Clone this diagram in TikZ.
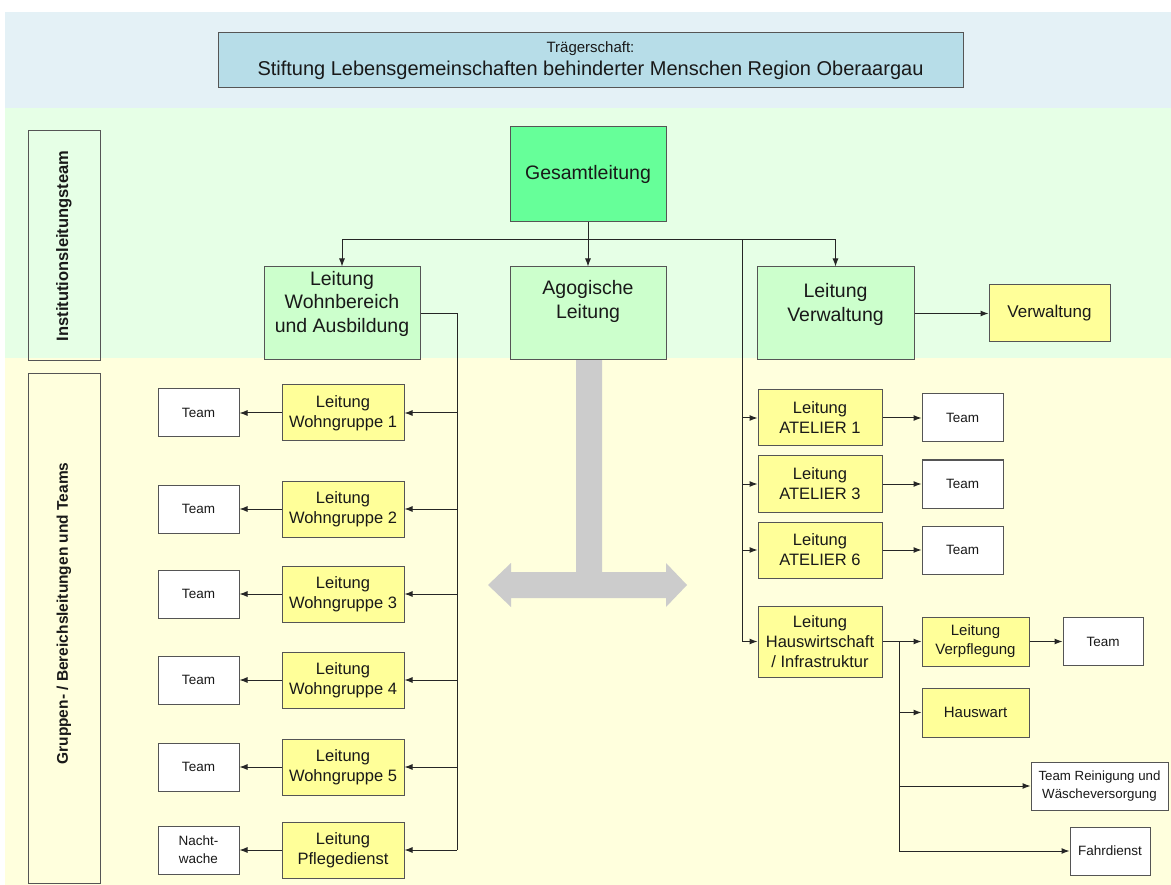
\documentclass[tikz,border=0pt]{standalone}
\usepackage{fontspec}
\setmainfont{Liberation Sans}
\usetikzlibrary{arrows.meta}
\definecolor{bandblue}{HTML}{E4F1F6}
\definecolor{bandgreen}{HTML}{E6FFE6}
\definecolor{bandyellow}{HTML}{FFFFDD}
\definecolor{boxblue}{HTML}{B7DDE8}
\definecolor{boxgreenD}{HTML}{66FF99}
\definecolor{boxgreenL}{HTML}{CCFFCC}
\definecolor{boxyellow}{HTML}{FFFF99}
\definecolor{edge}{HTML}{555555}
\definecolor{arrowgray}{HTML}{CCCCCC}
\tikzset{
  base/.style={draw=edge, line width=1pt, align=center, inner sep=0pt, text=black!90},
  bluebox/.style={base, fill=boxblue},
  darkgreen/.style={base, fill=boxgreenD, font=\fontsize{19.5}{23}\selectfont},
  lightgreen/.style={base, fill=boxgreenL},
  gtext/.style={align=center, inner sep=0pt, font=\fontsize{19.5}{23.5}\selectfont, text=black!90},
  yellowbox/.style={base, fill=boxyellow, font=\fontsize{16.5}{20}\selectfont},
  smallyellow/.style={yellowbox, font=\fontsize{15}{19}\selectfont},
  whitebox/.style={base, fill=white, font=\fontsize{13.5}{18}\selectfont},
  sidebox/.style={base, rotate=90, font=\bfseries\fontsize{16.5}{19}\selectfont},
  conn/.style={draw=black!85, line width=1pt},
  arr/.style={conn, -{Latex[length=8pt,width=6pt]}},
}
\begin{document}
\begin{tikzpicture}[x=1pt,y=-1pt]
\useasboundingbox (0,0) rectangle (1171,885);
\fill[white] (0,0) rectangle (1171,885);
% bands
\fill[bandblue] (5,12) rectangle (1171,108);
\fill[bandgreen] (5,108) rectangle (1171,358);
\fill[bandyellow] (5,358) rectangle (1171,885);

% top box
\node[bluebox, minimum width=745, minimum height=55] (traeger) at (590.5,60.5)
  {{\fontsize{15}{17}\selectfont Trägerschaft:}\\[5pt]{\fontsize{20}{21}\selectfont Stiftung Lebensgemeinschaften behinderter Menschen Region Oberaargau}};

% side labels
\node[sidebox, minimum width=230, minimum height=72] (inst) at (64,246) {Institutionsleitungsteam};
\node[sidebox, minimum width=509, minimum height=72, font=\bfseries\fontsize{15.5}{18}\selectfont] (grp) at (64,628.5) {\hspace*{30pt}Gruppen- / Bereichsleitungen und Teams};

% gray T arrow
\fill[arrowgray] (576,360) -- (602,360) -- (602,572) -- (666,572) -- (666,563) -- (687,585)
  -- (666,607) -- (666,598) -- (511,598) -- (511,607) -- (488,585) -- (511,563) -- (511,572)
  -- (576,572) -- cycle;

% top level
\node[darkgreen, minimum width=156, minimum height=95] (gesamt) at (588,174.5) {Gesamtleitung};
\node[lightgreen, minimum width=156, minimum height=93] (lwa) at (342,313.5) {};
\node[gtext] (lwaT) at ([yshift=10pt]lwa.center) {Leitung\\Wohnbereich\\und Ausbildung};
\node[lightgreen, minimum width=156, minimum height=93] (ago) at (588,313.5) {};
\node[gtext] (agoT) at ([yshift=12pt]ago.center) {Agogische\\Leitung};
\node[lightgreen, minimum width=157, minimum height=93] (lver) at (835.5,313.5) {};
\node[gtext] (lverT) at ([yshift=9pt]lver.center) {Leitung\\Verwaltung};
\node[yellowbox, minimum width=121, minimum height=57, font=\fontsize{17}{20}\selectfont] (verw) at (1049.5,313.5) {Verwaltung};

% left column
\node[yellowbox, minimum width=122, minimum height=56] (wg1) at (343,413) {Leitung\\Wohngruppe 1};
\node[yellowbox, minimum width=122, minimum height=56] (wg2) at (343,509) {Leitung\\Wohngruppe 2};
\node[yellowbox, minimum width=122, minimum height=56] (wg3) at (343,594) {Leitung\\Wohngruppe 3};
\node[yellowbox, minimum width=122, minimum height=56] (wg4) at (343,680) {Leitung\\Wohngruppe 4};
\node[yellowbox, minimum width=122, minimum height=56] (wg5) at (343,767) {Leitung\\Wohngruppe 5};
\node[yellowbox, minimum width=122, minimum height=56] (pfl) at (343,850) {Leitung\\Pflegedienst};

\node[whitebox, minimum width=81, minimum height=48] (t1) at (198.5,413) {Team};
\node[whitebox, minimum width=81, minimum height=48] (t2) at (198.5,509) {Team};
\node[whitebox, minimum width=81, minimum height=48] (t3) at (198.5,594) {Team};
\node[whitebox, minimum width=81, minimum height=48] (t4) at (198.5,680) {Team};
\node[whitebox, minimum width=81, minimum height=48] (t5) at (198.5,767) {Team};
\node[whitebox, minimum width=81, minimum height=48] (nw) at (198.5,850) {Nacht-\\wache};

% right column
\node[yellowbox, minimum width=124, minimum height=56] (at1) at (820,418) {Leitung\\ATELIER 1};
\node[yellowbox, minimum width=124, minimum height=56] (at3) at (820,484) {Leitung\\ATELIER 3};
\node[yellowbox, minimum width=124, minimum height=56] (at6) at (820,550) {Leitung\\ATELIER 6};
\node[yellowbox, minimum width=124, minimum height=71] (haus) at (820,641.5) {Leitung\\Hauswirtschaft\\/ Infrastruktur};

\node[whitebox, minimum width=81, minimum height=48] (ta1) at (962.5,418) {Team};
\node[whitebox, minimum width=81, minimum height=48] (ta3) at (962.5,484) {Team};
\node[whitebox, minimum width=81, minimum height=48] (ta6) at (962.5,550) {Team};

\node[smallyellow, minimum width=107, minimum height=49] (verpf) at (975.5,641.5) {Leitung\\Verpflegung};
\node[whitebox, minimum width=80, minimum height=48] (tvp) at (1103,641.5) {Team};
\node[smallyellow, minimum width=107, minimum height=49] (hw) at (975.5,712.5) {Hauswart};
\node[whitebox, minimum width=137, minimum height=48, font=\fontsize{13.3}{18}\selectfont] (rein) at (1099.5,786) {Team Reinigung und\\Wäscheversorgung};
\node[whitebox, minimum width=80, minimum height=48] (fahr) at (1110,851) {Fahrdienst};

% connectors top
\coordinate (bus) at (0,240);
\coordinate (rb) at (742,240);
\coordinate (lb) at (457,0);
\coordinate (hb) at (899,0);
\draw[conn] (gesamt.south) -- (gesamt.south |- bus);
\draw[conn] (lwa.north |- bus) -- (lver.north |- bus);
\draw[arr] (lwa.north |- bus) -- (lwa.north);
\draw[arr] (ago.north |- bus) -- (ago.north);
\draw[arr] (lver.north |- bus) -- (lver.north);
\draw[arr] (lver.east) -- (verw.west);

% left bus
\draw[conn] (lwa.east) -- (lwa.east -| lb) -- (lb |- pfl.east);
\foreach \n/\t in {wg1/t1,wg2/t2,wg3/t3,wg4/t4,wg5/t5,pfl/nw}{
  \draw[arr] (lb |- \n.east) -- (\n.east);
  \draw[arr] (\n.west) -- (\t.east);
}

% right bus
\draw[conn] (rb) -- (rb |- haus.west);
\foreach \n/\t in {at1/ta1,at3/ta3,at6/ta6}{
  \draw[arr] (rb |- \n.west) -- (\n.west);
  \draw[arr] (\n.east) -- (\t.west);
}
\draw[arr] (rb |- haus.west) -- (haus.west);

% Hauswirtschaft branch
\draw[conn] (haus.east) -- (haus.east -| hb) -- (hb |- fahr.west);
\draw[arr] (hb |- verpf.west) -- (verpf.west);
\draw[arr] (hb |- hw.west) -- (hw.west);
\draw[arr] (hb |- rein.west) -- (rein.west);
\draw[arr] (hb |- fahr.west) -- (fahr.west);
\draw[arr] (verpf.east) -- (tvp.west);
\end{tikzpicture}
\end{document}
